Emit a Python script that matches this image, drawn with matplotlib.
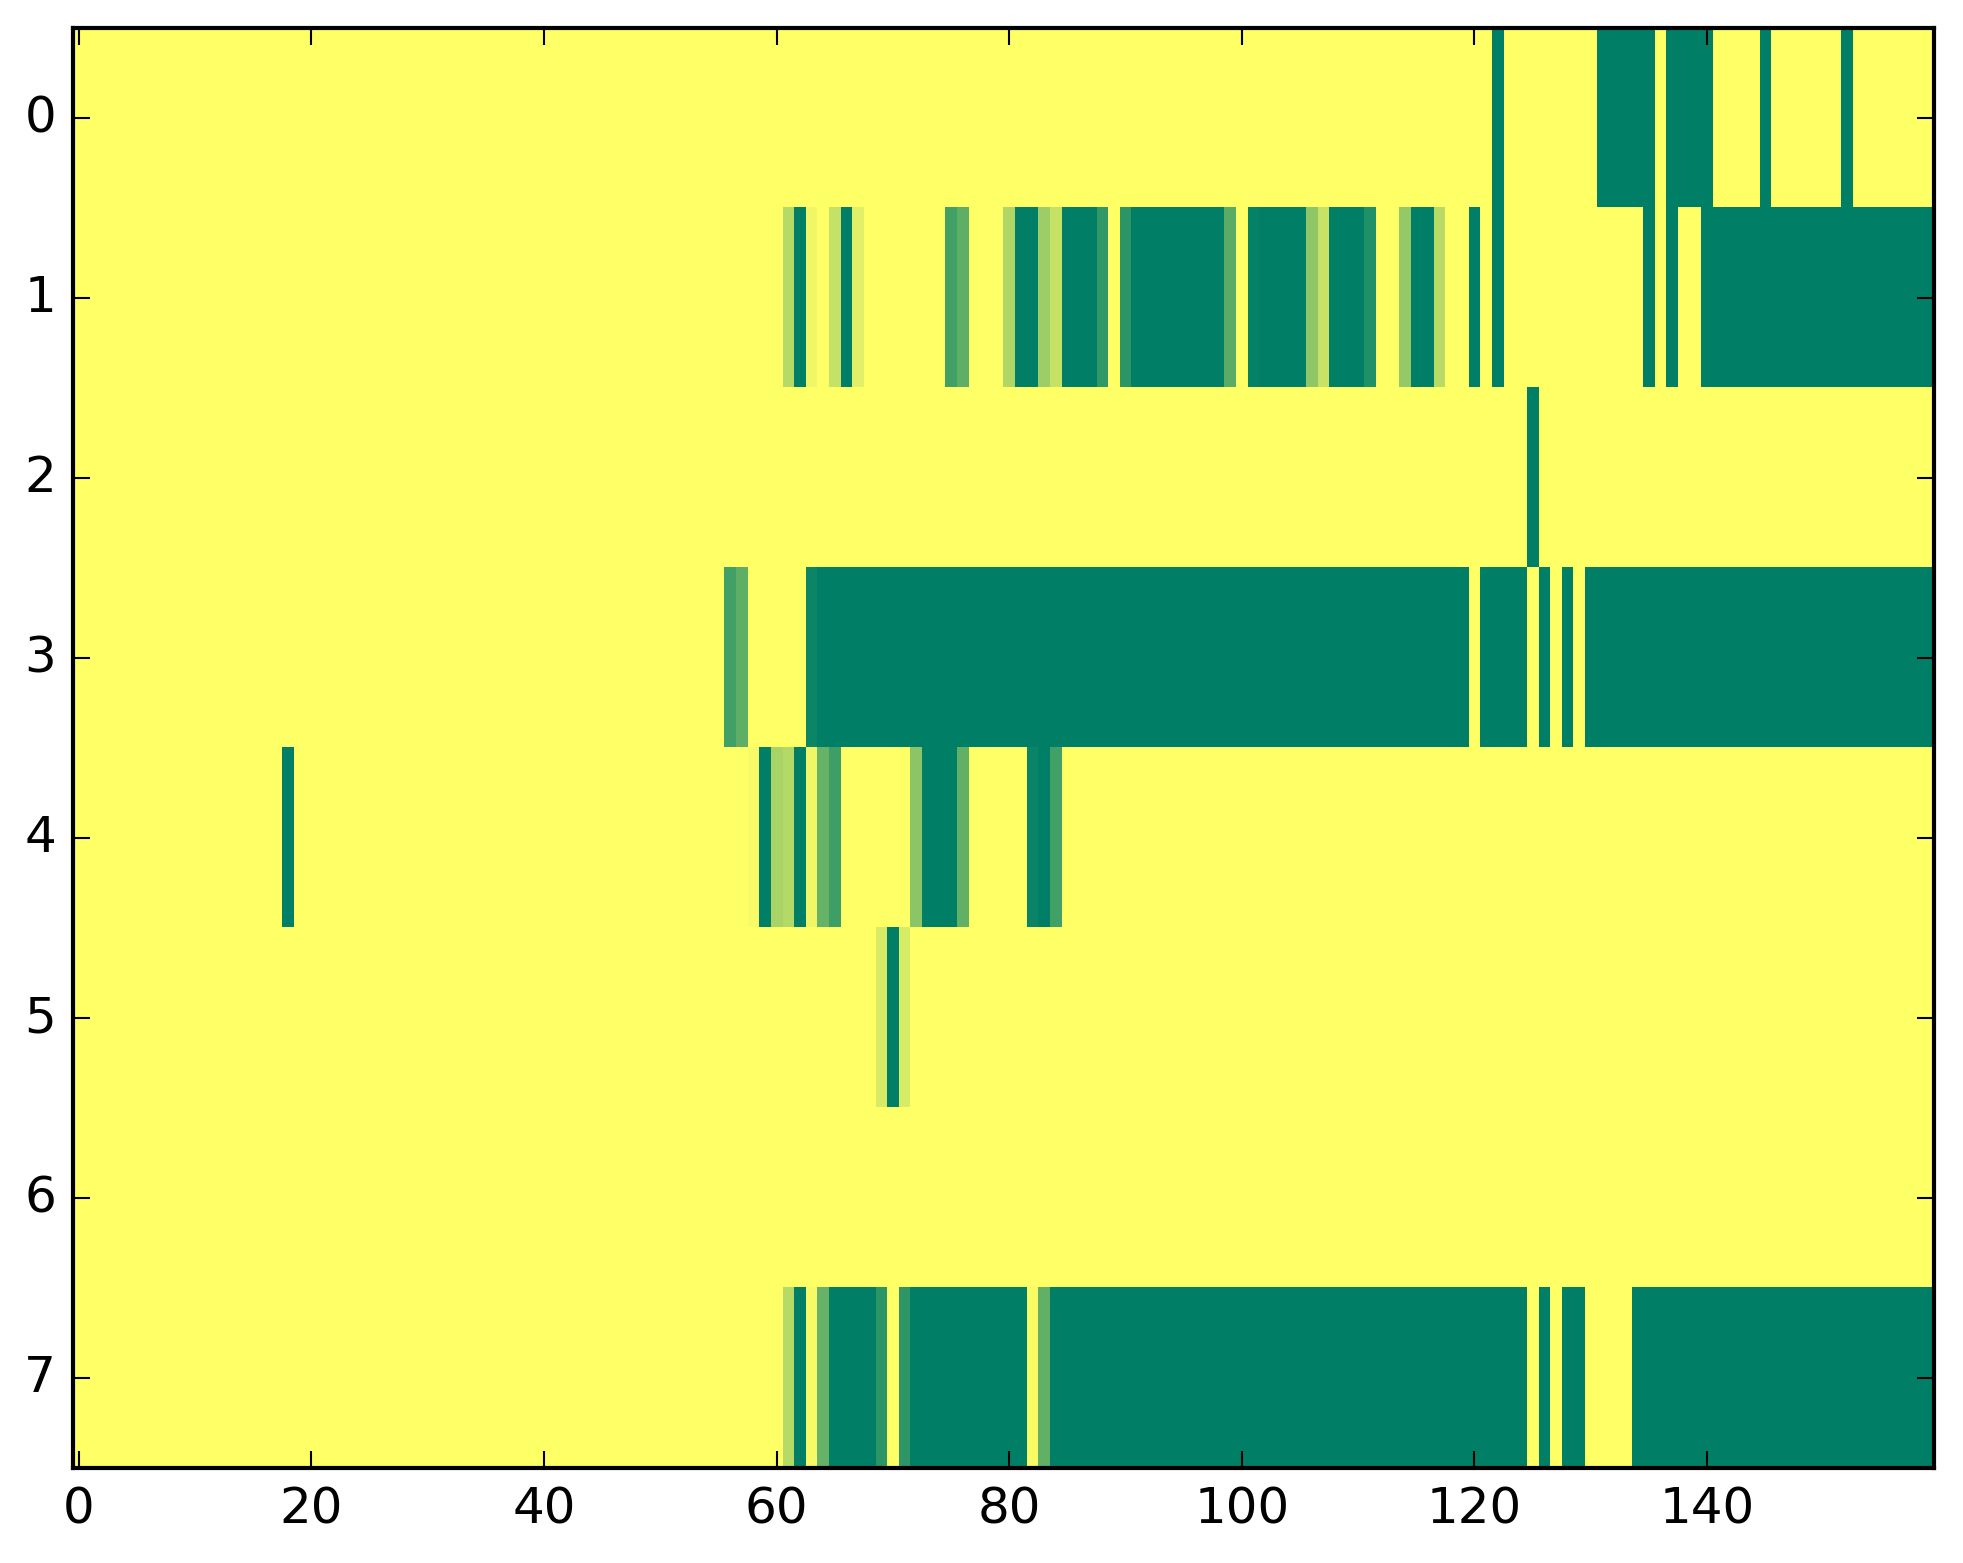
import numpy as np
import matplotlib
matplotlib.use("Agg")
import matplotlib.pyplot as plt

plt.style.use("classic")

n_rows = 8
n_cols = 160

# runs of (first column, last column, value) for each row; everything else is 0
row0 = [(122, 122, 1), (131, 135, 1), (137, 140, 1), (145, 145, 1), (152, 152, 1)]
row1 = [(61, 61, .29), (62, 62, 1), (63, 63, .06), (65, 65, .23), (66, 66, 1),
        (67, 67, .12), (75, 75, .74), (76, 76, .63), (80, 80, .31), (81, 82, 1),
        (83, 83, .39), (84, 84, .23), (85, 87, 1), (88, 88, .81), (90, 90, .83),
        (91, 98, 1), (99, 99, .65), (101, 101, .98), (102, 105, 1), (106, 106, .44),
        (107, 107, .22), (108, 110, 1), (111, 111, .87), (114, 114, .42),
        (115, 116, 1), (117, 117, .28), (120, 120, 1), (122, 122, 1),
        (135, 135, 1), (137, 137, 1), (140, 159, 1)]
row2 = [(125, 125, 1)]
row3 = [(56, 56, .74), (57, 57, .63), (63, 63, .95), (64, 119, 1), (121, 124, 1),
        (126, 126, 1), (128, 128, 1), (130, 159, 1)]
row4 = [(18, 18, 1), (58, 58, .03), (59, 59, 1), (60, 60, .34), (61, 61, .30),
        (62, 62, 1), (63, 63, .06), (64, 64, .6), (65, 65, .76), (72, 72, .45),
        (73, 75, 1), (76, 76, .62), (82, 82, .96), (83, 83, 1), (84, 84, .74)]
row5 = [(69, 69, .16), (70, 70, 1), (71, 71, .16)]
row6 = []
row7 = [(61, 61, .29), (62, 62, 1), (63, 63, .04), (64, 64, .6), (65, 68, 1),
        (69, 69, .83), (71, 71, .82), (72, 81, 1), (82, 82, .03), (83, 83, .62),
        (84, 124, 1), (126, 126, 1), (128, 129, 1), (134, 159, 1)]

rows = [row0, row1, row2, row3, row4, row5, row6, row7]

data = np.zeros((n_rows, n_cols))
for i, runs in enumerate(rows):
    for a, b, v in runs:
        data[i, a:b + 1] = v

W, H = 1963, 1564
fig = plt.figure(figsize=(W / 300, H / 300), dpi=300)
ax = fig.add_axes([72.9 / W, (H - 1468.5) / H, 1861 / W, 1440 / H])
ax.imshow(data, cmap="summer_r", vmin=0, vmax=1, interpolation="nearest", aspect="auto")
ax.set_xticks(np.arange(0, 160, 20))
ax.set_yticks(np.arange(0, 8))
ax.set_xlim(-0.5, n_cols - 0.5)
ax.set_ylim(n_rows - 0.5, -0.5)

fig.savefig("out.png", dpi=300)
